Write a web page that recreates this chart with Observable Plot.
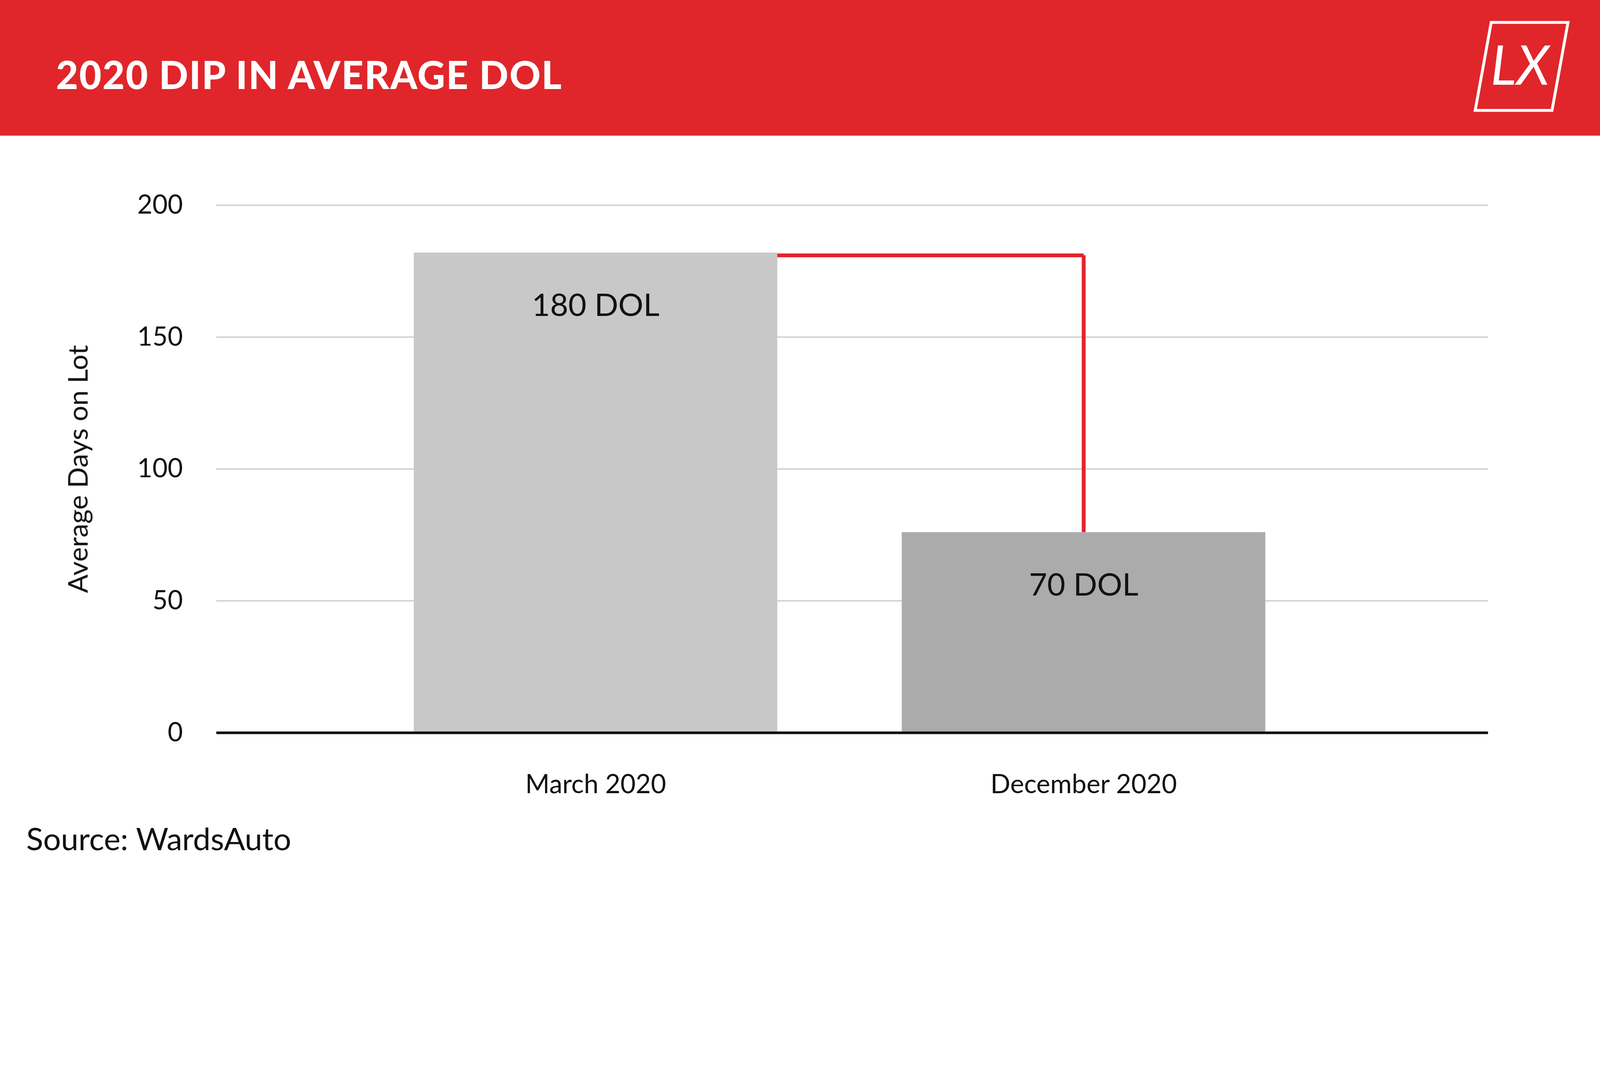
<!DOCTYPE html>
<html><head><meta charset="utf-8">
<script src="https://cdn.jsdelivr.net/npm/d3@7"></script>
<script src="https://cdn.jsdelivr.net/npm/@observablehq/plot@0.6"></script>
<style>
html,body{margin:0;padding:0;background:#fff;overflow:hidden}
body{position:relative}
#wrap{width:5000px;height:2727px;position:absolute;left:0;top:0;transform-origin:0 0;font-family:Lato,sans-serif}
#hdr{position:absolute;left:0;top:0;width:5000px;height:424px;background:#E0262A}
#title{position:absolute;left:175px;top:160px;color:#fff;font:900 120px Lato,sans-serif;letter-spacing:3px}
#logo{position:absolute;left:4590px;top:60px}
#chart{position:absolute;left:0;top:424px}
#src{position:absolute;left:82px;top:2560px;font:98px Lato,sans-serif;color:#111}
</style></head><body>
<div id="wrap">
<div id="hdr"></div>
<div id="title">2020 DIP IN AVERAGE DOL</div>
<svg id="logo" width="320" height="300" viewBox="0 0 320 300">
<polygon points="70,10 310,10 260,285 20,285" fill="none" stroke="#fff" stroke-width="9"/>
<text x="160" y="205" text-anchor="middle" fill="#fff" font-family="Lato" font-style="italic" font-size="170" font-weight="400">LX</text>
</svg>
<div id="chart"></div>
<div id="src">Source: WardsAuto</div>
</div>
<script>
const categories = ["March 2020", "December 2020"];
const values = [182, 76];
const labels = ["180 DOL", "70 DOL"];
const colors = ["#C8C8C8", "#ABABAB"];
const yTicks = [0, 50, 100, 150, 200];
const data = categories.map((c, i) => ({cat: c, v: values[i], label: labels[i], color: colors[i]}));

const chart = Plot.plot({
  width: 5000, height: 2100,
  marginTop: 217, marginBottom: 234, marginLeft: 676, marginRight: 350,
  style: {fontFamily: "Lato, sans-serif", fontSize: "82px", color: "#111"},
  x: {domain: categories, paddingInner: 0.255, paddingOuter: 0.43, align: 0.47, tickSize: 0, tickPadding: 130, label: null},
  y: {domain: [0, 200], ticks: yTicks, tickSize: 0, tickPadding: 105, label: null},
  marks: [
    Plot.gridY(yTicks, {stroke: "#ccc", strokeOpacity: 1, strokeWidth: 4}),
    Plot.link([{}], {x1: () => categories[0], x2: () => categories[1], y1: () => 181, y2: () => 181, stroke: "#E0262A", strokeWidth: 12}),
    Plot.ruleX([categories[1]], {y1: 76, y2: 181, stroke: "#E0262A", strokeWidth: 12}),
    Plot.barY(data, {x: "cat", y: "v", fill: "color"}),
    Plot.text(data, {x: "cat", y: "v", text: "label", dy: 166, fontSize: 98, fill: "#111"}),
    Plot.ruleY([0], {stroke: "#111", strokeWidth: 8}),
    Plot.text(["Average Days on Lot"], {frameAnchor: "left", textAnchor: "middle", dx: -430, rotate: -90, fontSize: 86, fill: "#111"})
  ]
});
document.getElementById("chart").appendChild(chart);
function fit(){
  const s = window.innerWidth / 5000;
  document.getElementById("wrap").style.transform = `scale(${s})`;
  document.body.style.width = (5000 * s) + "px";
  document.body.style.height = (2727 * s) + "px";
  document.documentElement.style.height = (2727 * s) + "px";
}
fit(); window.addEventListener("resize", fit);
</script>
</body></html>
